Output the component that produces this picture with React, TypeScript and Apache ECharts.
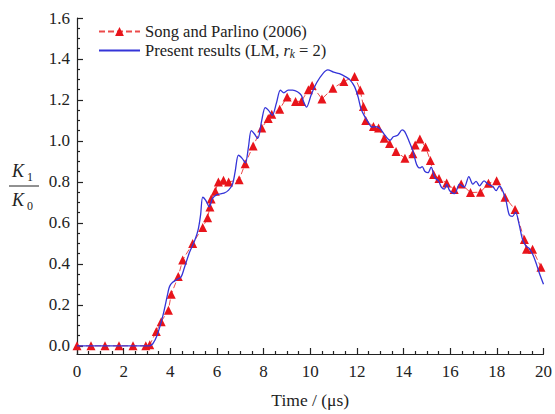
import React, { useEffect, useRef } from "react";
import * as echarts from "echarts";

const songX = [0, 0.6, 1.2, 1.8, 2.4, 2.95, 3.12, 3.4, 3.61, 3.92, 4.04, 4.34, 4.53, 4.96, 5.39, 5.6, 5.7, 5.75, 5.93, 6.06, 6.28, 6.5, 6.95, 7.21, 7.55, 7.92, 8.2, 8.35, 8.69, 9.01, 9.37, 9.62, 9.92, 10.08, 10.5, 10.97, 11.44, 11.9, 12.14, 12.28, 12.38, 12.71, 12.93, 13.17, 13.4, 13.68, 14.06, 14.4, 14.5, 14.7, 14.94, 15.15, 15.29, 15.52, 15.85, 16.17, 16.47, 16.87, 17.3, 17.64, 17.99, 18.35, 18.78, 19.18, 19.27, 19.53, 19.89];
const songY = [0, 0, 0, 0, 0, 0, 0.005, 0.07, 0.118, 0.174, 0.252, 0.338, 0.419, 0.499, 0.578, 0.625, 0.678, 0.717, 0.754, 0.8, 0.808, 0.8, 0.81, 0.889, 0.975, 1.063, 1.11, 1.13, 1.155, 1.215, 1.193, 1.193, 1.25, 1.27, 1.205, 1.257, 1.29, 1.315, 1.249, 1.168, 1.1, 1.07, 1.063, 1.013, 0.987, 0.948, 0.916, 0.938, 0.98, 1.009, 0.97, 0.905, 0.836, 0.816, 0.795, 0.763, 0.79, 0.748, 0.75, 0.793, 0.806, 0.725, 0.665, 0.519, 0.471, 0.471, 0.384];

const lmX = [0, 3.1, 3.25, 3.43, 3.68, 3.9, 3.97, 4.1, 4.3, 4.46, 4.6, 4.82, 5.05, 5.2, 5.3, 5.39, 5.52, 5.67, 5.81, 6.0, 6.3, 6.5, 6.67, 6.78, 6.92, 7.08, 7.22, 7.35, 7.47, 7.6, 7.75, 7.92, 8.07, 8.22, 8.37, 8.55, 8.72, 8.87, 9.05, 9.25, 9.45, 9.62, 9.72, 9.84, 10.05, 10.28, 10.55, 10.75, 11.0, 11.25, 11.5, 11.7, 11.9, 12.05, 12.18, 12.32, 12.49, 12.64, 12.8, 12.99, 13.2, 13.42, 13.56, 13.75, 13.94, 14.05, 14.23, 14.41, 14.56, 14.7, 14.8, 14.91, 15.05, 15.18, 15.34, 15.5, 15.62, 15.75, 15.85, 15.98, 16.19, 16.4, 16.6, 16.8, 16.97, 17.11, 17.26, 17.45, 17.61, 17.83, 17.97, 18.11, 18.25, 18.39, 18.53, 18.67, 18.8, 18.96, 19.1, 19.25, 19.39, 19.53, 19.67, 19.82, 20.0];
const lmY = [0, 0, 0.01, 0.05, 0.146, 0.26, 0.29, 0.31, 0.325, 0.335, 0.38, 0.455, 0.515, 0.57, 0.64, 0.725, 0.71, 0.678, 0.72, 0.738, 0.745, 0.76, 0.79, 0.85, 0.93, 0.915, 0.893, 0.97, 1.05, 1.035, 1.012, 1.1, 1.163, 1.148, 1.125, 1.185, 1.248, 1.235, 1.248, 1.248, 1.24, 1.222, 1.19, 1.165, 1.228, 1.285, 1.33, 1.347, 1.336, 1.328, 1.314, 1.298, 1.265, 1.215, 1.155, 1.122, 1.09, 1.068, 1.07, 1.06, 1.028, 1.003, 1.02, 1.028, 1.054, 1.045, 1.0, 0.948, 0.885, 0.868, 0.875, 0.852, 0.845, 0.872, 0.821, 0.805, 0.775, 0.765, 0.789, 0.757, 0.743, 0.789, 0.775, 0.826, 0.789, 0.803, 0.781, 0.805, 0.79, 0.777, 0.757, 0.78, 0.757, 0.71, 0.64, 0.632, 0.652, 0.59, 0.52, 0.487, 0.475, 0.448, 0.408, 0.355, 0.3];

const yMajor = [0, 0.2, 0.4, 0.6, 0.8, 1.0, 1.2, 1.4, 1.6];
const yMinor = [0.05, 0.1, 0.15, 0.25, 0.3, 0.35, 0.45, 0.5, 0.55, 0.65, 0.7, 0.75, 0.85, 0.9, 0.95, 1.05, 1.1, 1.15, 1.25, 1.3, 1.35, 1.45, 1.5, 1.55];
const xMinor = [0.5, 1, 1.5, 2.5, 3, 3.5, 4.5, 5, 5.5, 6.5, 7, 7.5, 8.5, 9, 9.5, 10.5, 11, 11.5, 12.5, 13, 13.5, 14.5, 15, 15.5, 16.5, 17, 17.5, 18.5, 19, 19.5];

const seriesNames = ["Song and Parlino (2006)", "Present results (LM, r_k = 2)"];
const xTitle = "Time / (μs)";

const FONT = "'Liberation Serif', 'Times New Roman', serif";
const AX = "#222";

export default function App() {
  const ref = useRef<HTMLDivElement>(null);
  useEffect(() => {
    if (!ref.current) return;
    const chart = echarts.init(ref.current, null, { renderer: "svg" });
    const yMin = -0.04;
    const labelStyle = { fontFamily: FONT, fontSize: 17, color: "#222" };
    chart.setOption({
      animation: false,
      backgroundColor: "#fff",
      grid: { left: 77, right: 9, top: 18, bottom: 52, containLabel: false },
      legend: {
        left: 93,
        top: 18,
        orient: "vertical",
        itemGap: 2,
        itemWidth: 41,
        itemHeight: 11,
        textStyle: {
          fontFamily: FONT,
          fontSize: 16.5,
          color: "#222",
          rich: {
            i: { fontFamily: FONT, fontSize: 16.5, fontStyle: "italic", color: "#222" },
            sub: { fontFamily: FONT, fontSize: 11.5, fontStyle: "italic", color: "#222", padding: [7, 0, 0, 0] },
          },
        },
        formatter: (name: string) =>
          name === seriesNames[1] ? "Present results (LM, {i|r}{sub|k} = 2)" : name,
        data: [
          { name: seriesNames[0] },
          { name: seriesNames[1], itemStyle: { opacity: 0 } },
        ],
      },
      xAxis: [
        {
          type: "value",
          min: 0,
          max: 20,
          interval: 2,
          name: xTitle,
          nameLocation: "middle",
          nameGap: 37,
          nameTextStyle: { fontFamily: FONT, fontSize: 17.5, color: "#222" },
          axisLine: { onZero: false, lineStyle: { color: AX, width: 1.2 } },
          axisTick: { inside: true, length: 6, lineStyle: { color: AX, width: 1.2 } },
          axisLabel: { ...labelStyle, margin: 9 },
          splitLine: { show: false },
        },
        {
          type: "value",
          min: 0,
          max: 20,
          position: "bottom",
          axisLine: { show: false, onZero: false },
          axisTick: { inside: true, length: 3, customValues: xMinor, lineStyle: { color: AX, width: 1.2 } },
          axisLabel: { show: false },
          splitLine: { show: false },
        },
      ],
      yAxis: [
        {
          type: "value",
          min: yMin,
          max: 1.6,
          axisLine: { show: true, onZero: false, lineStyle: { color: AX, width: 1.2 } },
          axisTick: { inside: true, length: 6, customValues: yMajor, lineStyle: { color: AX, width: 1.2 } },
          axisLabel: {
            ...labelStyle,
            margin: 7,
            customValues: yMajor,
            formatter: (v: number) => v.toFixed(1),
          },
          splitLine: { show: false },
        },
        {
          type: "value",
          min: yMin,
          max: 1.6,
          position: "left",
          axisLine: { show: false, onZero: false },
          axisTick: { inside: true, length: 3, customValues: yMinor, lineStyle: { color: AX, width: 1.2 } },
          axisLabel: { show: false },
          splitLine: { show: false },
        },
      ],
      series: [
        {
          name: seriesNames[0],
          type: "line",
          data: songX.map((x, i) => [x, songY[i]]),
          symbol: "triangle",
          symbolSize: 9,
          itemStyle: { color: "#e8141b" },
          lineStyle: { color: "#ec4a4a", width: 1, type: [6, 3] },
          z: 2,
        },
        {
          name: seriesNames[1],
          type: "line",
          data: lmX.map((x, i) => [x, lmY[i]]),
          symbol: "none",
          smooth: 0.3,
          itemStyle: { color: "#3434d8" },
          lineStyle: { color: "#3434d8", width: 1.3 },
          z: 3,
        },
      ],
      graphic: [
        { type: "text", left: 12, top: 162, style: { text: "K", font: `italic 18px ${FONT}`, fill: "#222" } },
        { type: "text", left: 27, top: 171, style: { text: "1", font: `12px ${FONT}`, fill: "#222" } },
        { type: "line", shape: { x1: 9, y1: 186, x2: 39, y2: 186 }, style: { stroke: "#222", lineWidth: 1 } },
        { type: "text", left: 12, top: 191, style: { text: "K", font: `italic 18px ${FONT}`, fill: "#222" } },
        { type: "text", left: 27, top: 200, style: { text: "0", font: `12px ${FONT}`, fill: "#222" } },
      ],
    });
    return () => chart.dispose();
  }, []);
  return <div ref={ref} style={{ width: 555, height: 414, position: "absolute", left: 0, top: 0 }} />;
}
